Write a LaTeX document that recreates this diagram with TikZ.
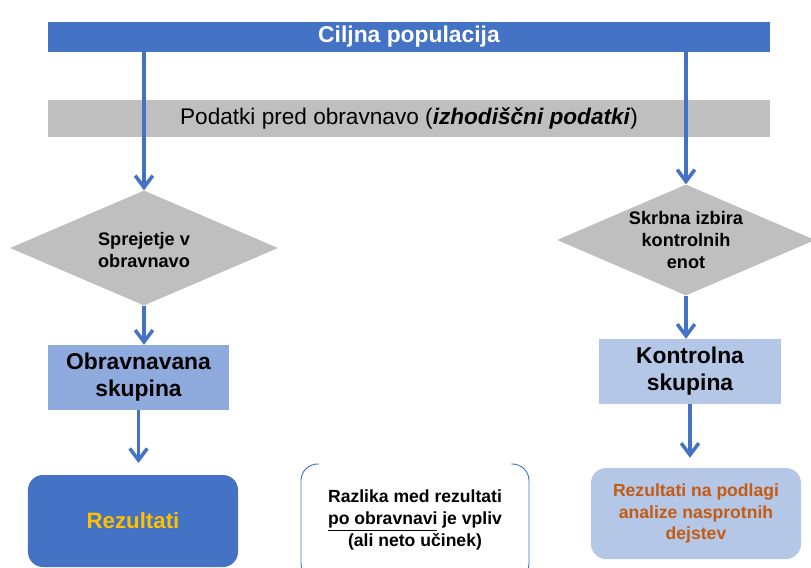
\documentclass[tikz,border=0pt]{standalone}
\usepackage{fontspec}
\setmainfont{Liberation Sans}
\usetikzlibrary{
  calc,           % mixed coordinates
  shapes.geometric, % diamonds
  arrows.meta     % barbed tips
}
\definecolor{barblue}{HTML}{4472C4}
\definecolor{boxgray}{HTML}{BFBFBF}
\definecolor{midblue}{HTML}{8FAADC}
\definecolor{paleblue}{HTML}{B4C7E7}
\definecolor{gold}{HTML}{FFC000}
\definecolor{rust}{HTML}{C55A11}

\begin{document}
\begin{tikzpicture}[x=0.03cm, y=-0.03cm,
    bar/.style={rectangle, inner sep=0pt, minimum width=21.66cm},
    decide/.style={diamond, fill=boxgray, inner sep=0pt},
    decidetext/.style={align=center, font=\fontsize{15.5}{18.7}\selectfont\bfseries},
    group/.style={rectangle, inner sep=0pt, minimum width=5.45cm, minimum height=1.95cm,
      align=center, font=\fontsize{19.5}{23}\selectfont\bfseries},
    result/.style={rounded corners=0.45cm, inner sep=0pt, minimum width=6.3cm, align=center},
    arr/.style={draw=barblue, line width=3pt, -{Straight Barb[length=10pt,width=15pt]}}
  ]
            \useasboundingbox (0,0) rectangle (811,568);
            % bars
            \node[bar, fill=barblue, minimum height=0.9cm, text=white,
              font=\fontsize{19.5}{23}\selectfont\bfseries] (cilj) at (409,37) {Ciljna populacija};
            \node[bar, fill=boxgray, minimum height=1.11cm,
              font=\fontsize{19.3}{23}\selectfont] (pred) at (409,118.5)
              {Podatki pred obravnavo (\textbf{\textit{izhodiščni podatki}})};
            % decisions
            \node[decide, minimum width=8.04cm, minimum height=3.45cm] (sprejem) at (144,248) {};
            \node[decidetext] (sprejemtxt) at ([yshift=-2pt]sprejem) {Sprejetje v\\obravnavo};
            \node[decide, minimum width=7.74cm, minimum height=3.33cm] (izbira) at (686,240) {};
            \node[decidetext] (izbiratxt) at (izbira) {Skrbna izbira\\kontrolnih\\enot};
            % groups
            \node[group, fill=midblue] (obr) at (138.5,377.5) {Obravnavana\\skupina};
            \node[group, fill=paleblue] (kon) at (690,371.5) {Kontrolna\\skupina};
            % results
            \node[result, fill=barblue, text=gold, minimum height=2.76cm,
              font=\fontsize{19}{23}\selectfont\bfseries] (rezo) at (133,521) {Rezultati};
            \node[result, fill=paleblue, text=rust, minimum height=2.73cm,
              font=\fontsize{15}{18.7}\selectfont\bfseries] (rezk) at (696,513.5)
              {Rezultati na podlagi\\analize nasprotnih\\dejstev};
            \node[align=center, font=\fontsize{15}{19}\selectfont\bfseries] (razlika) at (415,520)
              {Razlika med rezultati\\\underline{po obravnavi} je vpliv\\(ali neto učinek)};
            \draw[barblue, line width=0.8pt, rounded corners=0.5cm]
              (319,464) -- (301,464) -- (301,580) -- (319,580);
            \draw[barblue, line width=0.8pt, rounded corners=0.5cm]
              (511,464) -- (529,464) -- (529,580) -- (511,580);
            % arrows
            \draw[arr] (cilj.south -| sprejem.north) -- (sprejem.north);
            \draw[arr] (cilj.south -| izbira.north) -- (izbira.north);
            \draw[arr] (sprejem.south) -- (sprejem.south |- obr.north);
            \draw[arr] (izbira.south) -- (izbira.south |- kon.north);
            \draw[arr, shorten >=10pt] (obr.south) -- (obr.south |- rezo.north);
            \draw[arr, shorten >=8.5pt] (kon.south) -- (kon.south |- rezk.north);
        \end{tikzpicture}
\end{document}
